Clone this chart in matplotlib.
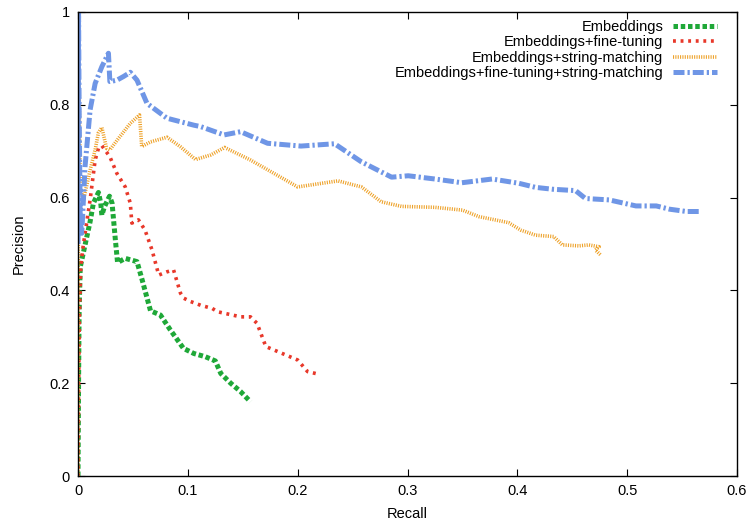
import matplotlib
matplotlib.use("Agg")
import matplotlib.pyplot as plt

plt.rcParams['font.family'] = ['Liberation Sans', 'DejaVu Sans']

labels = ["Embeddings", "Embeddings+fine-tuning", "Embeddings+string-matching",
          "Embeddings+fine-tuning+string-matching"]

emb_x = [0.0, 0.0005, 0.001, 0.002, 0.0064, 0.011, 0.014, 0.0186, 0.0207, 0.0217, 0.024,
         0.0287, 0.031, 0.034, 0.036, 0.043, 0.0537, 0.058, 0.066, 0.075, 0.084, 0.096,
         0.1055, 0.116, 0.125, 0.13, 0.139, 0.148, 0.157]
emb_y = [0.0, 0.2, 0.35, 0.45, 0.498, 0.548, 0.588, 0.611, 0.588, 0.562, 0.58,
         0.603, 0.588, 0.509, 0.46, 0.469, 0.462, 0.426, 0.356, 0.347, 0.315, 0.275,
         0.264, 0.257, 0.248, 0.221, 0.2, 0.182, 0.16]

ft_x = [0.0, 0.0006, 0.0012, 0.0025, 0.0046, 0.011, 0.0156, 0.0186, 0.0217, 0.029, 0.0354,
        0.043, 0.0476, 0.049, 0.055, 0.061, 0.0674, 0.0735, 0.081, 0.087, 0.0933, 0.0964,
        0.1025, 0.1116, 0.1223, 0.127, 0.148, 0.157, 0.163, 0.171, 0.182, 0.2, 0.209, 0.218]
ft_y = [0.0, 0.2, 0.34, 0.45, 0.494, 0.595, 0.681, 0.706, 0.712, 0.688, 0.652,
        0.623, 0.588, 0.545, 0.552, 0.53, 0.487, 0.433, 0.44, 0.444, 0.394, 0.383,
        0.376, 0.368, 0.361, 0.354, 0.343, 0.343, 0.329, 0.279, 0.268, 0.25, 0.225, 0.22]

sm_x = [0.0, 0.0005, 0.001, 0.002, 0.005, 0.011, 0.0156, 0.0186, 0.0217, 0.026, 0.029,
        0.038, 0.0476, 0.056, 0.058, 0.066, 0.081, 0.093, 0.107, 0.121, 0.1335, 0.157,
        0.2, 0.2367, 0.258, 0.276, 0.2946, 0.325, 0.35, 0.365, 0.392, 0.403, 0.4166,
        0.433, 0.441, 0.456, 0.465, 0.4745, 0.471, 0.476]
sm_y = [0.0, 1.0, 0.85, 0.62, 0.595, 0.659, 0.703, 0.74, 0.751, 0.706, 0.703,
        0.731, 0.76, 0.778, 0.71, 0.72, 0.73, 0.71, 0.682, 0.692, 0.708, 0.681,
        0.623, 0.636, 0.623, 0.591, 0.581, 0.579, 0.573, 0.559, 0.546, 0.53, 0.519,
        0.516, 0.498, 0.496, 0.498, 0.494, 0.487, 0.476]

all_x = [0.0, 0.0005, 0.001, 0.002, 0.0034, 0.0064, 0.011, 0.0156, 0.0217, 0.0277, 0.029,
         0.0354, 0.0415, 0.0476, 0.0537, 0.0628, 0.081, 0.1055, 0.1116, 0.133, 0.148,
         0.1726, 0.203, 0.2336, 0.258, 0.2855, 0.3007, 0.325, 0.3495, 0.377, 0.401,
         0.4166, 0.432, 0.453, 0.462, 0.4837, 0.508, 0.5265, 0.5385, 0.554, 0.5675]
all_y = [0.5, 1.0, 0.8, 0.55, 0.523, 0.667, 0.789, 0.846, 0.882, 0.911, 0.85,
         0.853, 0.861, 0.87, 0.853, 0.803, 0.771, 0.756, 0.753, 0.735, 0.742,
         0.717, 0.711, 0.716, 0.677, 0.644, 0.647, 0.64, 0.632, 0.64, 0.631,
         0.622, 0.618, 0.615, 0.598, 0.595, 0.582, 0.582, 0.575, 0.57, 0.57]

xticks = [0, 0.1, 0.2, 0.3, 0.4, 0.5, 0.6]
xtick_labels = ["0", "0.1", "0.2", "0.3", "0.4", "0.5", "0.6"]
yticks = [0, 0.2, 0.4, 0.6, 0.8, 1.0]
ytick_labels = ["0", "0.2", "0.4", "0.6", "0.8", "1"]

fig = plt.figure(figsize=(7.48, 5.2), dpi=100)
ax = fig.add_axes([0.1043, 0.0846, 0.8810, 0.8924])

ax.plot(emb_x, emb_y, color='#1fa838', lw=3.6, dashes=(0.9, 0.55), label=labels[0])
ax.plot(ft_x, ft_y, color='#e8382a', lw=2.6, dashes=(0.8, 1.3), label=labels[1])
ax.plot(sm_x, sm_y, color='#eea22a', lw=2.6, dashes=(0.3, 0.35), label=labels[2])
ax.plot(all_x, all_y, color='#6f96e6', lw=3.6, dashes=(2.2, 0.6, 0.45, 0.6), label=labels[3])

ax.set_xlim(0, 0.6)
ax.set_ylim(0, 1)
ax.set_xticks(xticks)
ax.set_xticklabels(xtick_labels)
ax.set_yticks(yticks)
ax.set_yticklabels(ytick_labels)
ax.tick_params(direction='in', top=True, right=True, length=5, width=0.8,
               labelsize=10.5, pad=6)
for s in ax.spines.values():
    s.set_linewidth(1.0)
ax.set_xlabel("Recall", fontsize=10.5, labelpad=6)
ax.set_ylabel("Precision", fontsize=10.5, labelpad=17)

leg = ax.legend(loc='upper right', frameon=False, markerfirst=False, fontsize=10.5,
                handlelength=3.0, handletextpad=0.68, labelspacing=0.08,
                borderaxespad=0.0, borderpad=0.0, bbox_to_anchor=(0.9697, 0.982))
for t in leg.get_texts():
    t.set_ha('right')
leg._legend_box.align = 'right'

fig.savefig("out.png", dpi=100)
